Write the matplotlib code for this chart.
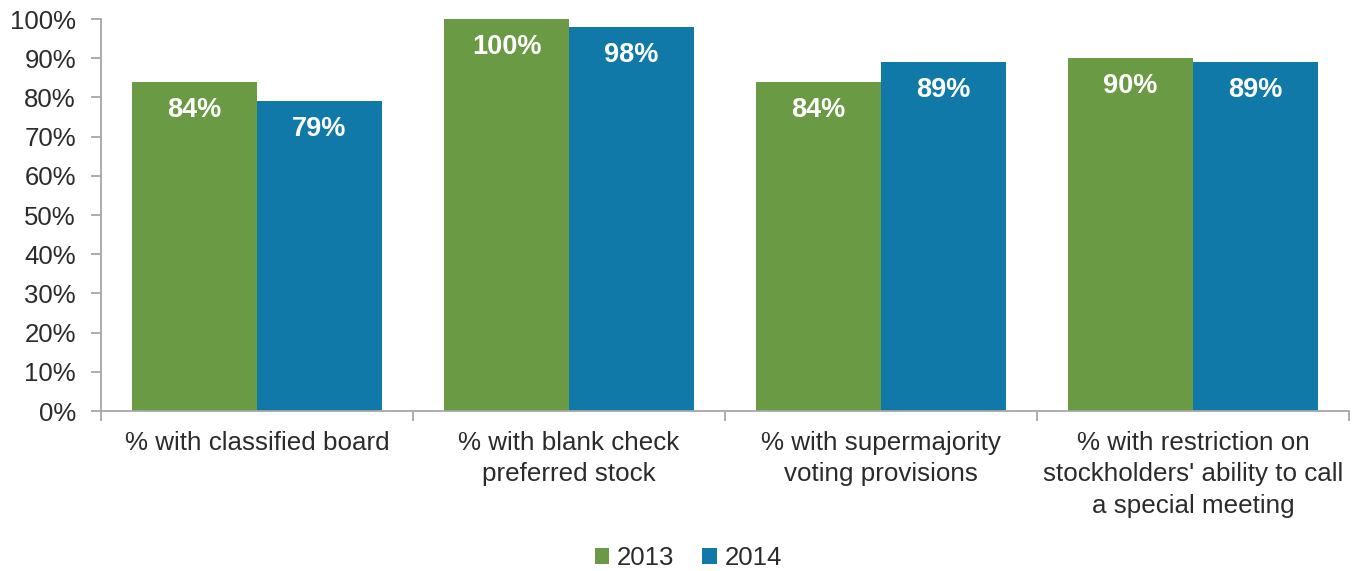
import matplotlib
matplotlib.use('Agg')
import matplotlib.pyplot as plt
import numpy as np

plt.rcParams['font.family'] = ['Liberation Sans', 'DejaVu Sans']

categories = ['% with classified board',
              '% with blank check\npreferred stock',
              '% with supermajority\nvoting provisions',
              "% with restriction on\nstockholders' ability to call\na special meeting"]
vals_2013 = [84, 100, 84, 90]
vals_2014 = [79, 98, 89, 89]
labels_2013 = ['84%', '100%', '84%', '90%']
labels_2014 = ['79%', '98%', '89%', '89%']

green = '#6a9a44'
blue = '#1079a8'
grey = '#a6a6a6'
text_col = '#2b2b2b'

fig = plt.figure(figsize=(13.63, 5.71), dpi=100)
ax = fig.add_axes([0.0741, 0.2802, 0.9156, 0.6865])

x = np.arange(len(categories))
w = 0.4
b1 = ax.bar(x - w / 2, vals_2013, w, color=green, label='2013')
b2 = ax.bar(x + w / 2, vals_2014, w, color=blue, label='2014')

# value labels inside the top of each bar
for bars, labs in ((b1, labels_2013), (b2, labels_2014)):
    for r, t in zip(bars, labs):
        ax.annotate(t, (r.get_x() + r.get_width() / 2, r.get_height()),
                    xytext=(0, -28), textcoords='offset pixels',
                    ha='center', va='center', color='white',
                    fontsize=19.5, fontweight='bold')

ax.set_xlim(-0.5, len(categories) - 0.5)
ax.set_ylim(0, 100)
ax.set_yticks(np.arange(0, 101, 10))
ax.set_yticklabels([f'{v}%' for v in range(0, 101, 10)])

# ticks between groups on x axis, labels at centres
ax.set_xticks(np.arange(-0.5, len(categories), 1))
ax.set_xticklabels([])
ax.set_xticks(x, minor=True)
ax.set_xticklabels(categories, minor=True, linespacing=1.38)
ax.tick_params(axis='x', which='minor', length=0, pad=14.5, labelsize=18.7, labelcolor=text_col)
ax.tick_params(axis='x', which='major', length=7, color=grey, width=1.3, direction='out')
ax.tick_params(axis='y', length=7, color=grey, width=1.3, labelsize=18.5, labelcolor=text_col, pad=11)

for s in ('top', 'right'):
    ax.spines[s].set_visible(False)
for s in ('left', 'bottom'):
    ax.spines[s].set_color(grey)
    ax.spines[s].set_linewidth(1.3)

# legend centred on the figure, not the axes
fig.legend(handles=[b1, b2], labels=['2013', '2014'], loc='lower center',
           bbox_to_anchor=(0.505, -0.039), ncol=2, frameon=False,
           fontsize=18.5, handlelength=0.55, handleheight=0.55, handletextpad=0.3,
           columnspacing=1.1, labelcolor=text_col)

fig.savefig('out.png', dpi=100)
